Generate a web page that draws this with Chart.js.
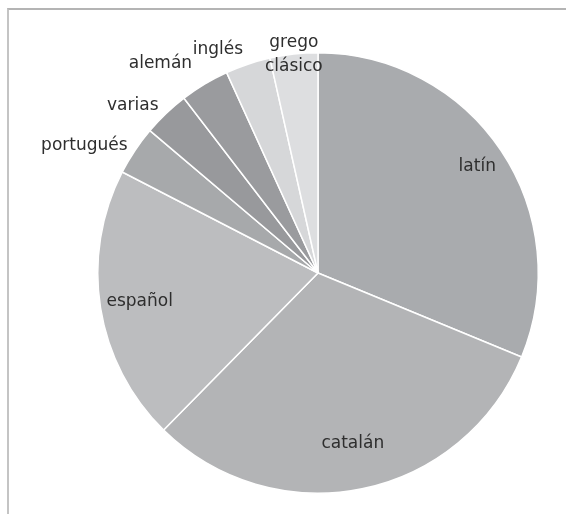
<!DOCTYPE html>
<html>
<head>
<meta charset="utf-8">
<script src="https://cdn.jsdelivr.net/npm/chart.js@4/dist/chart.umd.min.js"></script>
<style>
  html, body { margin: 0; padding: 0; background: #fff; }
  .wrap { position: relative; width: 566px; height: 514px; }
  .frame {
    position: absolute; left: 7px; top: 8px; right: 0; bottom: 0;
    border-top: 2px solid #b4b4b4; border-left: 2px solid #c4c4c4;
  }
  canvas { position: absolute; left: 0; top: 0; }
</style>
</head>
<body>
<div class="wrap">
  <div class="frame"></div>
  <canvas id="chart" width="566" height="514"></canvas>
</div>
<script>
const languages = ['latín', 'catalán', 'español', 'portugués', 'varias', 'alemán', 'inglés', 'grego\nclásico']
const shares = [31.2, 31.1, 20.2, 3.6, 3.4, 3.6, 3.3, 3.5]
const fills = ['#a9abae', '#b3b4b6', '#bcbdbf', '#a7a9ab', '#98999c', '#9a9b9e', '#d6d7d9', '#dddee0']

// where each name sits: distance from centre (fraction of radius) and alignment
const labelDist = [0.87, 0.79, 0.82, 1.04, 1.05, 1.11, 1.07, 1.0]
const labelAlign = ['center', 'center', 'center', 'right', 'right', 'right', 'right', 'center']

const sliceLabels = {
  id: 'sliceLabels',
  afterDatasetsDraw(chart) {
    const ctx = chart.ctx
    const arcs = chart.getDatasetMeta(0).data
    ctx.save()
    ctx.font = '17px "DejaVu Sans"'
    ctx.fillStyle = '#2e2e2e'
    ctx.textBaseline = 'middle'
    arcs.forEach((arc, i) => {
      const { x, y, startAngle, endAngle, outerRadius } = arc.getProps(['x', 'y', 'startAngle', 'endAngle', 'outerRadius'])
      const mid = (startAngle + endAngle) / 2
      const r = outerRadius * labelDist[i]
      const lx = x + Math.cos(mid) * r
      const ly = y + Math.sin(mid) * r
      const lines = languages[i].split('\n')
      ctx.textAlign = labelAlign[i]
      lines.forEach((line, j) => {
        ctx.fillText(line, lx, ly + (j - (lines.length - 1) / 2) * 24)
      })
    })
    ctx.restore()
  }
}

new Chart('chart', {
  type: 'pie',
  data: {
    labels: languages,
    datasets: [{
      data: shares,
      backgroundColor: fills,
      borderColor: '#ffffff',
      borderWidth: 1.5
    }]
  },
  options: {
    responsive: false,
    animation: false,
    layout: { padding: { left: 97, right: 27, top: 52, bottom: 20 } },
    plugins: {
      legend: { display: false },
      tooltip: { enabled: false }
    }
  },
  plugins: [sliceLabels]
})
</script>
</body>
</html>
